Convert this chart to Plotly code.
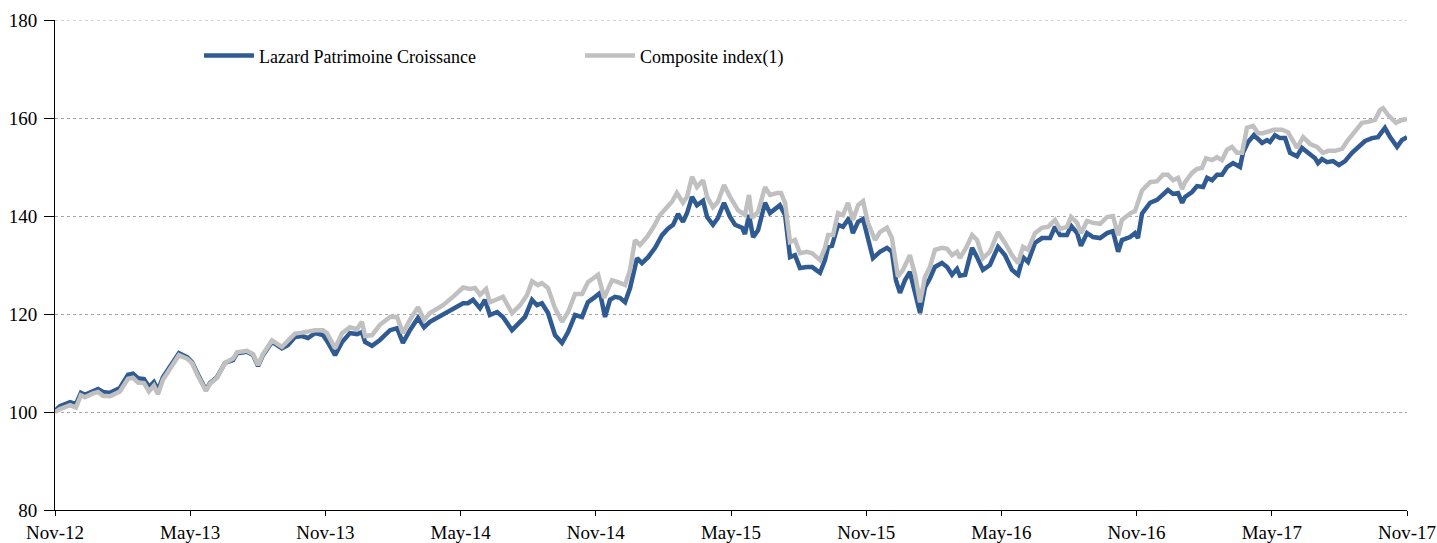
import plotly.graph_objects as go

# x positions in months since Nov-2012
lazard_months = [0.00, 0.04, 0.22, 0.67, 0.93, 1.15, 1.33, 1.69, 1.91, 2.13, 2.44, 2.88, 3.24, 3.46, 3.68, 3.95,
    4.17, 4.39, 4.57, 4.79, 5.10, 5.50, 5.86, 6.08, 6.35, 6.70, 6.88, 7.19, 7.54, 7.90, 8.08, 8.52, 8.79,
    9.01, 9.23, 9.63, 10.07, 10.34, 10.65, 10.96, 11.23, 11.54, 11.89, 12.07, 12.43, 12.74, 13.09, 13.40,
    13.62, 13.76, 14.07, 14.42, 14.87, 15.18, 15.44, 15.75, 16.11, 16.38, 16.64, 16.95, 17.22, 17.66,
    18.11, 18.33, 18.55, 18.86, 19.08, 19.30, 19.62, 19.88, 20.28, 20.64, 20.86, 21.17, 21.39, 21.61,
    21.88, 22.19, 22.50, 22.77, 23.08, 23.39, 23.65, 23.97, 24.19, 24.41, 24.63, 24.85, 25.07, 25.30,
    25.52, 25.83, 26.05, 26.32, 26.63, 26.94, 27.20, 27.43, 27.65, 27.87, 28.05, 28.27, 28.49, 28.76,
    28.94, 29.20, 29.42, 29.69, 29.96, 30.18, 30.49, 30.62, 30.80, 30.98, 31.20, 31.51, 31.73, 31.95,
    32.17, 32.40, 32.62, 32.84, 33.06, 33.37, 33.60, 33.77, 33.95, 34.17, 34.31, 34.48, 34.75, 34.97,
    35.24, 35.41, 35.64, 35.86, 36.08, 36.30, 36.61, 36.92, 37.14, 37.32, 37.50, 37.72, 37.94, 38.17,
    38.39, 38.61, 38.83, 39.05, 39.36, 39.59, 39.81, 40.03, 40.16, 40.39, 40.70, 40.92, 41.18, 41.49,
    41.85, 42.16, 42.47, 42.74, 42.96, 43.18, 43.49, 43.80, 44.16, 44.38, 44.60, 44.91, 45.09, 45.36,
    45.53, 45.80, 46.07, 46.38, 46.69, 46.95, 47.18, 47.35, 47.71, 47.93, 48.06, 48.24, 48.42, 48.60,
    48.91, 49.17, 49.39, 49.62, 49.84, 50.02, 50.15, 50.46, 50.68, 50.95, 51.13, 51.35, 51.57, 51.79,
    52.01, 52.28, 52.59, 52.72, 52.95, 53.21, 53.39, 53.57, 53.79, 53.92, 54.14, 54.36, 54.59, 54.81,
    55.12, 55.34, 55.61, 55.92, 56.05, 56.23, 56.45, 56.72, 56.98, 57.25, 57.56, 57.83, 58.14, 58.45,
    58.71, 59.02, 59.25, 59.56, 59.78, 60.00]
lazard_values = [100.0, 100.4, 101.2, 102.0, 101.6, 103.9, 103.5, 104.3, 104.7, 104.1, 103.9, 104.9, 107.6,
    107.8, 106.9, 106.7, 105.1, 106.1, 104.5, 107.1, 109.2, 112.0, 111.2, 110.2, 107.6, 104.5, 105.9,
    107.1, 110.0, 110.6, 112.0, 112.3, 111.6, 109.4, 111.6, 114.3, 113.0, 113.7, 115.3, 115.5, 115.1,
    116.1, 115.7, 114.5, 111.6, 114.3, 116.1, 115.9, 116.3, 114.3, 113.5, 114.7, 116.7, 117.1, 114.1,
    116.7, 119.2, 117.3, 118.4, 119.2, 119.8, 121.0, 122.2, 122.2, 122.9, 121.2, 122.9, 119.8, 120.4,
    119.4, 116.7, 118.4, 119.4, 122.9, 121.8, 122.2, 120.2, 115.7, 114.1, 116.3, 119.8, 119.4, 122.4,
    123.5, 124.3, 119.4, 122.9, 123.5, 123.3, 122.4, 125.3, 131.4, 130.4, 131.6, 133.5, 136.1, 137.4,
    138.2, 140.4, 138.8, 140.6, 143.9, 142.2, 143.1, 139.8, 138.2, 139.6, 142.7, 139.8, 138.2, 137.6,
    136.3, 140.2, 135.7, 137.1, 142.7, 140.6, 141.4, 142.2, 140.2, 131.6, 132.0, 129.4, 129.6, 129.6,
    129.0, 128.4, 131.0, 133.7, 133.9, 138.2, 137.8, 139.6, 136.5, 138.8, 139.4, 135.1, 131.4, 132.7,
    133.5, 132.7, 126.9, 124.3, 126.9, 128.6, 124.5, 120.2, 125.5, 127.3, 129.6, 130.4, 129.6, 128.0,
    129.2, 127.8, 128.0, 133.5, 131.6, 129.0, 130.0, 133.7, 132.0, 129.0, 128.0, 131.6, 130.6, 134.5,
    135.5, 135.5, 137.8, 136.1, 136.1, 138.0, 136.5, 133.9, 136.5, 135.7, 135.5, 136.5, 136.9, 132.7,
    135.1, 135.7, 136.5, 135.5, 140.5, 141.6, 142.7, 143.3, 144.3, 145.3, 144.5, 144.7, 142.7, 143.9,
    144.9, 146.1, 145.9, 147.8, 147.3, 148.4, 148.4, 150.0, 150.8, 150.0, 152.9, 155.1, 156.5, 155.7,
    154.9, 155.5, 155.1, 156.5, 155.9, 155.9, 152.9, 152.2, 153.9, 152.9, 151.8, 150.8, 151.6, 151.0,
    151.2, 150.4, 151.2, 152.9, 154.1, 155.3, 155.9, 156.1, 158.0, 156.1, 154.1, 155.5, 156.1]

composite_months = [0.00, 0.22, 0.67, 0.93, 1.15, 1.33, 1.69, 1.91, 2.13, 2.44, 2.88, 3.24, 3.46, 3.68, 3.95,
    4.17, 4.39, 4.57, 4.79, 5.10, 5.50, 5.86, 6.08, 6.35, 6.70, 6.88, 7.19, 7.54, 7.90, 8.08, 8.52, 8.79,
    9.01, 9.23, 9.63, 10.07, 10.34, 10.65, 10.96, 11.23, 11.54, 11.89, 12.07, 12.43, 12.74, 13.09, 13.40,
    13.62, 13.76, 14.07, 14.42, 14.87, 15.18, 15.44, 15.75, 16.11, 16.38, 16.64, 16.95, 17.22, 17.66,
    18.11, 18.42, 18.64, 18.86, 19.13, 19.30, 19.62, 19.88, 20.28, 20.64, 20.95, 21.17, 21.43, 21.61,
    21.88, 22.19, 22.50, 22.77, 23.08, 23.39, 23.65, 23.97, 24.10, 24.37, 24.72, 24.98, 25.30, 25.52,
    25.74, 25.96, 26.27, 26.54, 26.85, 27.16, 27.38, 27.60, 27.87, 28.05, 28.27, 28.49, 28.76, 28.94,
    29.20, 29.42, 29.69, 29.96, 30.31, 30.62, 30.80, 30.93, 31.20, 31.51, 31.73, 32.04, 32.22, 32.40,
    32.62, 32.84, 33.06, 33.37, 33.60, 33.95, 34.17, 34.31, 34.53, 34.75, 34.97, 35.19, 35.41, 35.64,
    35.86, 36.08, 36.39, 36.61, 36.92, 37.14, 37.41, 37.63, 37.94, 38.17, 38.39, 38.61, 38.83, 39.05,
    39.36, 39.59, 39.81, 40.03, 40.16, 40.43, 40.70, 40.92, 41.18, 41.49, 41.85, 42.16, 42.47, 42.74,
    42.96, 43.18, 43.49, 43.80, 44.07, 44.38, 44.60, 44.91, 45.09, 45.36, 45.53, 45.80, 46.07, 46.38,
    46.69, 46.95, 47.18, 47.35, 47.71, 47.93, 48.24, 48.60, 48.91, 49.17, 49.39, 49.62, 49.84, 50.02,
    50.15, 50.46, 50.68, 50.90, 51.08, 51.35, 51.57, 51.79, 52.01, 52.23, 52.45, 52.68, 52.90, 53.17,
    53.39, 53.61, 53.79, 54.09, 54.45, 54.72, 55.12, 55.39, 55.70, 56.01, 56.27, 56.50, 56.81, 57.12,
    57.38, 57.69, 58.00, 58.27, 58.58, 58.80, 58.94, 59.16, 59.51, 59.78, 60.00]
composite_values = [100.0, 100.6, 101.4, 100.9, 103.4, 103.0, 103.8, 104.1, 103.3, 103.2, 104.2, 106.8,
    107.0, 106.0, 105.9, 104.2, 105.4, 103.6, 106.6, 108.8, 111.6, 110.9, 110.0, 107.3, 104.3, 105.8,
    107.0, 110.0, 110.9, 112.2, 112.5, 111.8, 109.6, 111.8, 114.6, 113.3, 114.5, 116.0, 116.2, 116.4,
    116.7, 116.7, 116.1, 113.0, 116.1, 117.3, 116.9, 118.4, 115.5, 115.7, 117.8, 119.4, 119.4, 116.1,
    118.8, 121.4, 118.8, 120.2, 121.2, 121.8, 123.5, 125.4, 125.1, 125.3, 123.9, 125.1, 122.4, 123.1,
    123.5, 120.2, 121.8, 123.9, 126.7, 125.9, 126.3, 125.3, 121.2, 118.4, 120.4, 124.1, 124.1, 126.5,
    127.6, 128.0, 123.3, 126.9, 126.5, 125.9, 129.0, 135.1, 134.1, 135.7, 137.6, 140.2, 141.8, 142.9,
    144.7, 142.7, 143.9, 148.0, 145.9, 147.3, 143.9, 141.8, 142.9, 146.3, 143.9, 141.2, 140.2, 144.3,
    139.6, 140.8, 145.9, 144.3, 144.7, 144.7, 142.7, 134.7, 135.1, 132.4, 132.7, 132.4, 131.0, 133.5,
    136.1, 136.1, 140.6, 140.2, 142.7, 139.2, 142.2, 143.0, 138.6, 135.1, 136.7, 137.6, 135.5, 127.6,
    129.0, 132.0, 128.0, 122.4, 127.6, 129.6, 133.1, 133.5, 133.3, 132.0, 132.7, 131.4, 133.5, 136.1,
    135.1, 131.4, 132.7, 136.7, 134.5, 132.0, 130.4, 133.7, 133.1, 136.5, 137.6, 137.8, 139.2, 137.3,
    137.8, 139.8, 138.6, 136.5, 139.0, 138.6, 138.4, 139.8, 140.0, 136.1, 139.2, 140.5, 141.0, 145.2,
    146.9, 147.1, 148.4, 148.4, 147.3, 147.8, 145.5, 146.9, 148.8, 149.6, 149.8, 151.8, 151.4, 152.0,
    151.4, 153.5, 154.1, 152.9, 152.9, 158.0, 158.4, 156.9, 156.9, 157.1, 157.6, 157.6, 157.1, 153.9,
    156.1, 154.7, 154.1, 152.9, 153.3, 153.3, 153.7, 155.5, 157.1, 159.0, 159.2, 159.6, 161.6, 162.0,
    160.6, 159.0, 159.6, 159.8]

tick_months = [0, 6, 12, 18, 24, 30, 36, 42, 48, 54, 60]
tick_labels = ["Nov-12", "May-13", "Nov-13", "May-14", "Nov-14", "May-15",
               "Nov-15", "May-16", "Nov-16", "May-17", "Nov-17"]
y_ticks = [80, 100, 120, 140, 160, 180]

FONT = "Liberation Serif, Times New Roman, serif"

fig = go.Figure()
fig.add_trace(go.Scatter(x=lazard_months, y=lazard_values, mode="lines",
                         name="Lazard Patrimoine Croissance",
                         line=dict(color="#2F5A92", width=4.5)))
fig.add_trace(go.Scatter(x=composite_months, y=composite_values, mode="lines",
                         name="Composite index(1)",
                         line=dict(color="#C0C0C0", width=4.5)))

# dotted gridline along the top of the plot (180)
fig.add_shape(type="line", xref="paper", x0=0, x1=1, yref="y", y0=180, y1=180,
              line=dict(color="#A6A6A6", width=1, dash="dot"), layer="below")

fig.update_layout(
    width=1437, height=543,
    margin=dict(l=55, r=30, t=20, b=33, autoexpand=False),
    paper_bgcolor="white", plot_bgcolor="white",
    font=dict(family=FONT, size=18, color="black"),
    showlegend=True,
    legend=dict(orientation="h", x=0.1065, y=0.927, xanchor="left", yanchor="middle",
                entrywidth=316, entrywidthmode="pixels", itemwidth=50,
                font=dict(family=FONT, size=18, color="black"),
                bgcolor="rgba(0,0,0,0)", traceorder="normal"),
    xaxis=dict(range=[0, 60], tickvals=tick_months, ticktext=tick_labels, automargin=False,
               showgrid=False, zeroline=False, showline=True, linecolor="black", linewidth=1,
               ticks="outside", ticklen=5, tickcolor="black",
               tickfont=dict(family=FONT, size=19, color="black")),
    yaxis=dict(range=[80, 180], tickvals=y_ticks, automargin=False,
               showgrid=True, gridcolor="#A6A6A6", griddash="dot", gridwidth=1,
               zeroline=False, showline=True, linecolor="black", linewidth=1,
               ticks="outside", ticklen=10, tickcolor="black", ticklabelstandoff=3,
               tickfont=dict(family=FONT, size=19, color="black")),
)

fig.write_html("out.html")
